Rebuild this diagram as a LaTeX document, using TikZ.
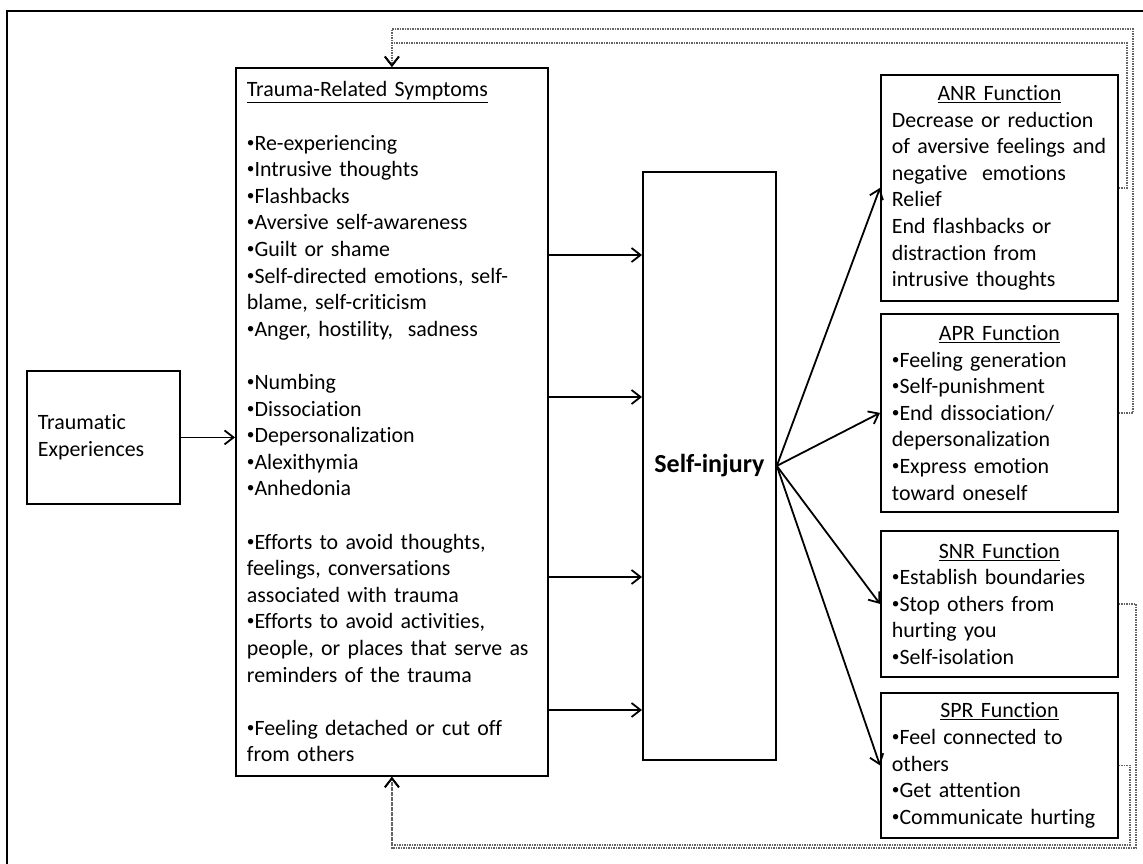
\documentclass[tikz,border=0pt]{standalone}
\usepackage{fontspec}
\usepackage{graphicx}
\setmainfont{Carlito}[Ligatures=NoCommon]
\usetikzlibrary{arrows.meta, positioning}
\definecolor{fbgrey}{RGB}{100,100,100}
\newcommand{\boxfont}{\fontsize{21.9}{26.6}\selectfont\spaceskip=3.7pt\relax}
\tikzset{
  box/.style      = {rectangle, draw=black, line width=1.8pt, align=left, anchor=north west,
                     inner xsep=11pt, inner ysep=2pt, text width=215pt, font=\boxfont},
  core/.style     = {box, align=center, font=\fontsize{26}{31}\selectfont\bfseries},
  flow/.style     = {-{Straight Barb[length=9pt, width=14pt]}, line width=1.8pt, draw=black},
  backflow/.style = {-{Straight Barb[length=9pt, width=14pt, color=black, line width=1.8pt]},
                     line width=1.5pt, draw=fbgrey, densely dotted},
  frame/.style    = {line width=2.6pt, draw=black},
}
\newcommand{\fhead}[1]{\hspace*{\fill}\underline{#1}\hspace*{\fill}\null}
\newcommand{\bul}{\raisebox{0.14em}{\scalebox{0.7}{•}}}

\begin{document}
\begin{tikzpicture}[x=1pt, y=-1pt]
  \useasboundingbox (0,0) rectangle (1143,864);
  \draw[frame] (7,880) -- (7,11) -- (1160,11);

  \node[box, text width=131pt, minimum height=133pt] (event) at (26,370) {Traumatic\\Experiences};
  \node[box, text width=290pt, minimum height=708pt] (trauma) at (235,67) {%
    \underline{Trauma-Related Symptoms}\\[26.6pt]
    \bul Re-experiencing\\
    \bul Intrusive thoughts\\
    \bul Flashbacks\\
    \bul Aversive self-awareness\\
    \bul Guilt or shame\\
    \bul Self-directed emotions, self-\\
    blame, self-criticism\\
    \bul Anger, hostility,~ sadness\\[26.6pt]
    \bul Numbing\\
    \bul Dissociation\\
    \bul Depersonalization\\
    \bul Alexithymia\\
    \bul Anhedonia\\[26.6pt]
    \bul Efforts to avoid thoughts,\\
    feelings, conversations\\
    associated with trauma\\
    \bul Efforts to avoid activities,\\
    people, or places that serve as\\
    reminders of the trauma\\[26.6pt]
    \bul Feeling detached or cut off\\
    from others};
  \node[core, text width=111pt, minimum height=588pt] (selfinj) at (642,171) {Self-injury};

  \node[box, minimum height=226pt] (anr) at (880,74) {%
    \fhead{ANR Function}\\
    Decrease or reduction\\
    of aversive feelings and\\
    negative~ emotions\\
    Relief\\
    End flashbacks or\\
    distraction from\\
    intrusive thoughts};
  \node[box, minimum height=198pt] (apr) at (880,313) {%
    \fhead{APR Function}\\
    \bul Feeling generation\\
    \bul Self-punishment\\
    \bul End dissociation/\\
    depersonalization\\
    \bul Express emotion\\
    toward oneself};
  \node[box, minimum height=146pt] (snr) at (880,530) {%
    \fhead{SNR Function}\\
    \bul Establish boundaries\\
    \bul Stop others from\\
    hurting you\\
    \bul Self-isolation};
  \node[box, minimum height=145pt] (spr) at (880,692) {%
    \fhead{SPR Function}\\
    \bul Feel connected to\\
    others\\
    \bul Get attention\\
    \bul Communicate hurting};

  \draw[flow] (event.east) -- (trauma.west |- event.east);
  \draw[flow] (trauma.east |- 0,255) -- (selfinj.west |- 0,255);
  \draw[flow] (trauma.east |- 0,397) -- (selfinj.west |- 0,397);
  \draw[flow] (trauma.east |- 0,577) -- (selfinj.west |- 0,577);
  \draw[flow] (trauma.east |- 0,710) -- (selfinj.west |- 0,710);
  \draw[flow] (selfinj.east) -- (anr.west);
  \draw[flow] (selfinj.east) -- (apr.west);
  \draw[flow] (selfinj.east) -- (snr.west);
  \draw[flow] (selfinj.east) -- (spr.west);

  \draw[backflow] (anr.east) -| (1127,43) -| (trauma.north);
  \draw[backflow] (apr.east) -| (1133,29) -| (trauma.north);
  \draw[backflow] (snr.east) -| (1136,848) -| (trauma.south);
  \draw[backflow] (spr.east) -| (1130,845) -| (trauma.south);
\end{tikzpicture}
\end{document}
